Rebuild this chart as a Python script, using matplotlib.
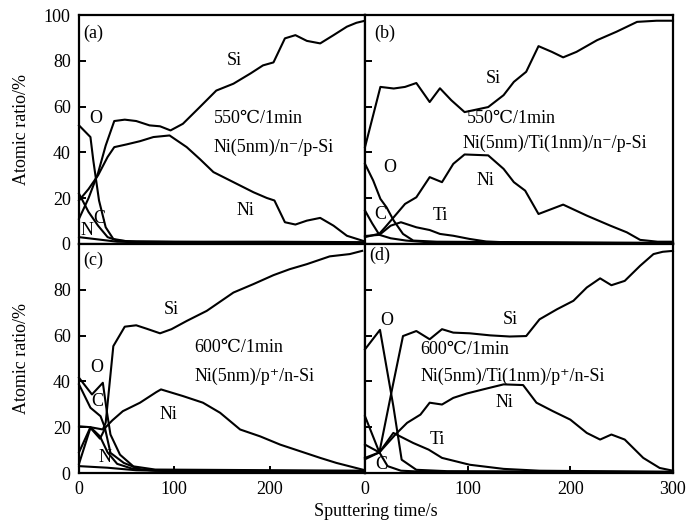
import matplotlib
matplotlib.use("Agg")
import matplotlib.pyplot as plt
from matplotlib.gridspec import GridSpec

plt.rcParams['font.family'] = ['Liberation Serif', 'DejaVu Serif']
plt.rcParams['mathtext.fontset'] = 'stix'

# ---- panel (a): 550C/1min Ni(5nm)/n-/p-Si ----
a_si_x = [0, 10, 20, 28, 37, 48, 60, 74, 85, 96, 109, 126, 144, 162, 180, 193, 204, 216, 227, 239, 253, 267, 281, 291, 300]
a_si_y = [11, 20, 31, 43, 53.7, 54.3, 53.7, 51.8, 51.4, 49.6, 52.5, 59.5, 67, 70, 74.5, 78, 79.3, 89.8, 91.2, 88.7, 87.6, 91.2, 94.9, 96.6, 97.5]
a_ni_x = [0, 10, 20, 30, 37, 50, 64, 78, 95, 113, 127, 141, 162, 183, 197, 205, 216, 227, 239, 253, 267, 281, 300]
a_ni_y = [19, 24, 30, 38, 42.3, 43.5, 44.9, 46.7, 47.4, 42.3, 37, 31.4, 27, 22.6, 20.1, 19, 9.5, 8.5, 10.2, 11.4, 8, 3.6, 1.1]
a_o_x = [0, 12, 15, 21, 28, 36, 50, 100, 200, 300]
a_o_y = [51.8, 46.7, 36.5, 19, 7.3, 2.2, 1.2, 1, 1, 0.8]
a_c_x = [0, 10, 20, 30, 40, 60, 300]
a_c_y = [22, 14, 8, 3, 1.5, 1, 0.5]
a_n_x = [0, 20, 40, 80, 300]
a_n_y = [3, 2, 1, 0.6, 0.3]

# ---- panel (b): 550C/1min Ni(5nm)/Ti(1nm)/n-/p-Si ----
b_si_x = [0, 15, 28, 39, 50, 63, 73, 84, 97, 120, 135, 145, 157, 169, 182, 193, 206, 226, 245, 265, 284, 300]
b_si_y = [42.3, 68.6, 67.9, 68.6, 70.3, 62, 68, 62.8, 57.6, 59.8, 65, 70.8, 75.2, 86.4, 83.9, 81.5, 83.9, 89, 92.7, 97, 97.5, 97.5]
b_ni_x = [0, 14, 20, 28, 39, 50, 63, 75, 86, 97, 120, 135, 145, 156, 169, 193, 216, 239, 255, 268, 285, 300]
b_ni_y = [3, 4.5, 7.5, 11.7, 17.5, 20.4, 29.2, 27, 35, 39.1, 38.7, 32.8, 27, 23.3, 13.1, 17.2, 12.4, 8, 5.1, 1.8, 1, 1]
b_o_x = [0, 8, 15, 21, 28, 37, 47, 70, 150, 300]
b_o_y = [35, 27.7, 19.7, 16, 10.2, 4.4, 1.5, 1, 0.8, 0.5]
b_c_x = [0, 7, 14, 25, 40, 60, 300]
b_c_y = [14.6, 9, 4, 2.5, 1.5, 0.8, 0.3]
b_ti_x = [0, 14, 25, 35, 50, 63, 73, 86, 102, 118, 150, 300]
b_ti_y = [3.5, 4, 8, 9.5, 7.3, 6.1, 4.4, 3.6, 2.2, 1.1, 0.5, 0.3]

# ---- panel (c): 600C/1min Ni(5nm)/p+/n-Si ----
c_si_x = [0, 12, 25, 28, 36, 48, 60, 71, 85, 97, 113, 134, 162, 183, 204, 221, 239, 263, 284, 297]
c_si_y = [20.4, 20, 19, 22, 55.4, 63.9, 64.5, 63, 61, 62.8, 66.4, 70.8, 78.8, 82.5, 86.4, 89, 91.2, 94.6, 95.6, 97]
c_ni_x = [0, 12, 22, 28, 35, 46, 64, 81, 86, 109, 130, 148, 169, 190, 211, 232, 253, 270, 300]
c_ni_y = [4, 19.7, 15, 20, 23, 27, 30.7, 35.3, 36.5, 33.6, 30.7, 26.3, 19, 16, 12.4, 9.5, 6.6, 4.4, 1.2]
c_o_x = [0, 13.6, 25, 29.4, 33, 43, 57, 80, 300]
c_o_y = [41.6, 34.3, 39.4, 26.3, 16.8, 8, 2.9, 1.5, 1]
c_c_x = [0, 12, 22.6, 27, 33, 47, 65, 100, 300]
c_c_y = [38.7, 28.5, 24.8, 20, 8.8, 4.4, 1.4, 1, 0.8]
c_n_x = [0, 12, 22, 30, 40, 55, 80, 300]
c_n_y = [9, 20, 16, 9, 4, 2, 1, 0.5]
c_base_x = [0, 30, 60, 100, 300]
c_base_y = [3, 2.3, 1.2, 0.8, 0.5]

# ---- panel (d): 600C/1min Ni(5nm)/Ti(1nm)/p+/n-Si ----
d_si_x = [0, 14, 27, 37, 50, 63, 75, 86, 102, 122, 141, 157, 170, 187, 203, 216, 229, 240, 253, 268, 281, 290, 300]
d_si_y = [6.6, 9, 38, 59.8, 62, 58.4, 62.8, 61.3, 61, 60.1, 59.6, 59.8, 67.1, 71.5, 75.2, 81, 85, 82, 83.9, 90.5, 95.6, 96.6, 97]
d_ni_x = [0, 14, 22, 30, 41, 54, 63, 75, 86, 99, 115, 135, 154, 167, 183, 200, 216, 229, 240, 253, 271, 287, 300]
d_ni_y = [6, 9, 13, 17, 21.9, 25.5, 30.7, 29.9, 32.8, 34.7, 36.5, 38.7, 38.4, 30.7, 27, 23.3, 17.5, 14.6, 16.8, 14.6, 6.6, 2.2, 1]
d_o_x = [0, 14.6, 27.6, 35.7, 50, 80, 300]
d_o_y = [54, 62.5, 29.2, 5.8, 1.4, 0.8, 0.5]
d_ti_x = [0, 14, 27.6, 47, 62, 75, 102, 135, 170, 300]
d_ti_y = [12.4, 9, 17.5, 13.1, 10.2, 6.6, 3.6, 1.8, 1, 0.5]
d_c_x = [0, 14, 22, 35, 60, 300]
d_c_y = [24.8, 9, 3, 1, 0.5, 0.3]

FS = 13


def style_axes(ax):
    for sp in ax.spines.values():
        sp.set_linewidth(1.6)
    ax.set_xlim(0, 300)
    ax.set_ylim(0, 100)
    ax.tick_params(direction='in', length=5, width=1.4, labelsize=FS, pad=6)


def draw(ax, curves):
    for xs, ys in curves:
        ax.plot(xs, ys, color='black', lw=1.5, clip_on=False)


fig = plt.figure(figsize=(6.89, 5.24), dpi=100)
gs = GridSpec(2, 2, figure=fig, width_ratios=[286, 308], wspace=0, hspace=0,
              left=79 / 689, right=673 / 689, top=1 - 15 / 524, bottom=1 - 473 / 524)
ax_a = fig.add_subplot(gs[0, 0])
ax_b = fig.add_subplot(gs[0, 1])
ax_c = fig.add_subplot(gs[1, 0])
ax_d = fig.add_subplot(gs[1, 1])

draw(ax_a, [(a_si_x, a_si_y), (a_ni_x, a_ni_y), (a_o_x, a_o_y), (a_c_x, a_c_y), (a_n_x, a_n_y)])
draw(ax_b, [(b_si_x, b_si_y), (b_ni_x, b_ni_y), (b_o_x, b_o_y), (b_c_x, b_c_y), (b_ti_x, b_ti_y)])
draw(ax_c, [(c_si_x, c_si_y), (c_ni_x, c_ni_y), (c_o_x, c_o_y), (c_c_x, c_c_y), (c_n_x, c_n_y), (c_base_x, c_base_y)])
draw(ax_d, [(d_si_x, d_si_y), (d_ni_x, d_ni_y), (d_o_x, d_o_y), (d_ti_x, d_ti_y), (d_c_x, d_c_y)])

for ax in (ax_a, ax_b, ax_c, ax_d):
    style_axes(ax)

# y ticks
ax_a.set_yticks([0, 20, 40, 60, 80, 100])
ax_c.set_yticks([0, 20, 40, 60, 80])
for ax in (ax_b, ax_d):
    ax.set_yticks([0, 20, 40, 60, 80, 100])
    ax.tick_params(labelleft=False)
# x ticks
ax_a.tick_params(bottom=False, labelbottom=False)
ax_b.tick_params(bottom=False, labelbottom=False)
ax_c.set_xticks([0, 100, 200])
ax_d.set_xticks([0, 100, 200, 300])

for ax in (ax_a, ax_c):
    ax.set_ylabel('Atomic ratio/%', fontsize=FS)
    ax.yaxis.set_label_coords(-0.17, 0.5)
fig.text(376 / 689, 1 - 511 / 524, 'Sputtering time/s', fontsize=FS, ha='center', va='center')

# panel annotations
kw = dict(fontsize=FS, va='center')
ax_a.text(4, 92, '(a)', **kw)
ax_a.text(163, 80, 'Si', ha='center', **kw)
ax_a.text(18, 55, 'O', ha='center', **kw)
ax_a.text(141, 55, '550\u2103/1min', **kw)
ax_a.text(141, 42.3, 'Ni(5nm)/n\u207b/p-Si', **kw)
ax_a.text(175, 14.6, 'Ni', ha='center', **kw)
ax_a.text(21.7, 11, 'C', ha='center', **kw)
ax_a.text(8.5, 5.8, 'N', ha='center', **kw)

ax_b.text(9, 92, '(b)', **kw)
ax_b.text(125, 72.3, 'Si', ha='center', **kw)
ax_b.text(99, 54.7, '550\u2103/1min', **kw)
ax_b.text(95, 43.8, 'Ni(5nm)/Ti(1nm)/n\u207b/p-Si', **kw)
ax_b.text(23.7, 33.5, 'O', ha='center', **kw)
ax_b.text(117, 27.7, 'Ni', ha='center', **kw)
ax_b.text(14.6, 13, 'C', ha='center', **kw)
ax_b.text(73, 12.4, 'Ti', ha='center', **kw)

ax_c.text(4, 92.7, '(c)', **kw)
ax_c.text(97, 71.5, 'Si', ha='center', **kw)
ax_c.text(18.2, 46, 'O', ha='center', **kw)
ax_c.text(19, 31.4, 'C', ha='center', **kw)
ax_c.text(121, 54.7, '600\u2103/1min', **kw)
ax_c.text(121, 42.3, 'Ni(5nm)/p\u207a/n-Si', **kw)
ax_c.text(94, 25.5, 'Ni', ha='center', **kw)
ax_c.text(27, 6.6, 'N', ha='center', **kw)

ax_d.text(4, 95, '(d)', **kw)
ax_d.text(21, 66.4, 'O', ha='center', **kw)
ax_d.text(141, 67.1, 'Si', ha='center', **kw)
ax_d.text(54, 54, '600\u2103/1min', **kw)
ax_d.text(54, 42.3, 'Ni(5nm)/Ti(1nm)/p\u207a/n-Si', **kw)
ax_d.text(136, 30.7, 'Ni', ha='center', **kw)
ax_d.text(70, 14.6, 'Ti', ha='center', **kw)
ax_d.text(16, 3.6, 'C', ha='center', **kw)

fig.savefig('out.png', dpi=100)
